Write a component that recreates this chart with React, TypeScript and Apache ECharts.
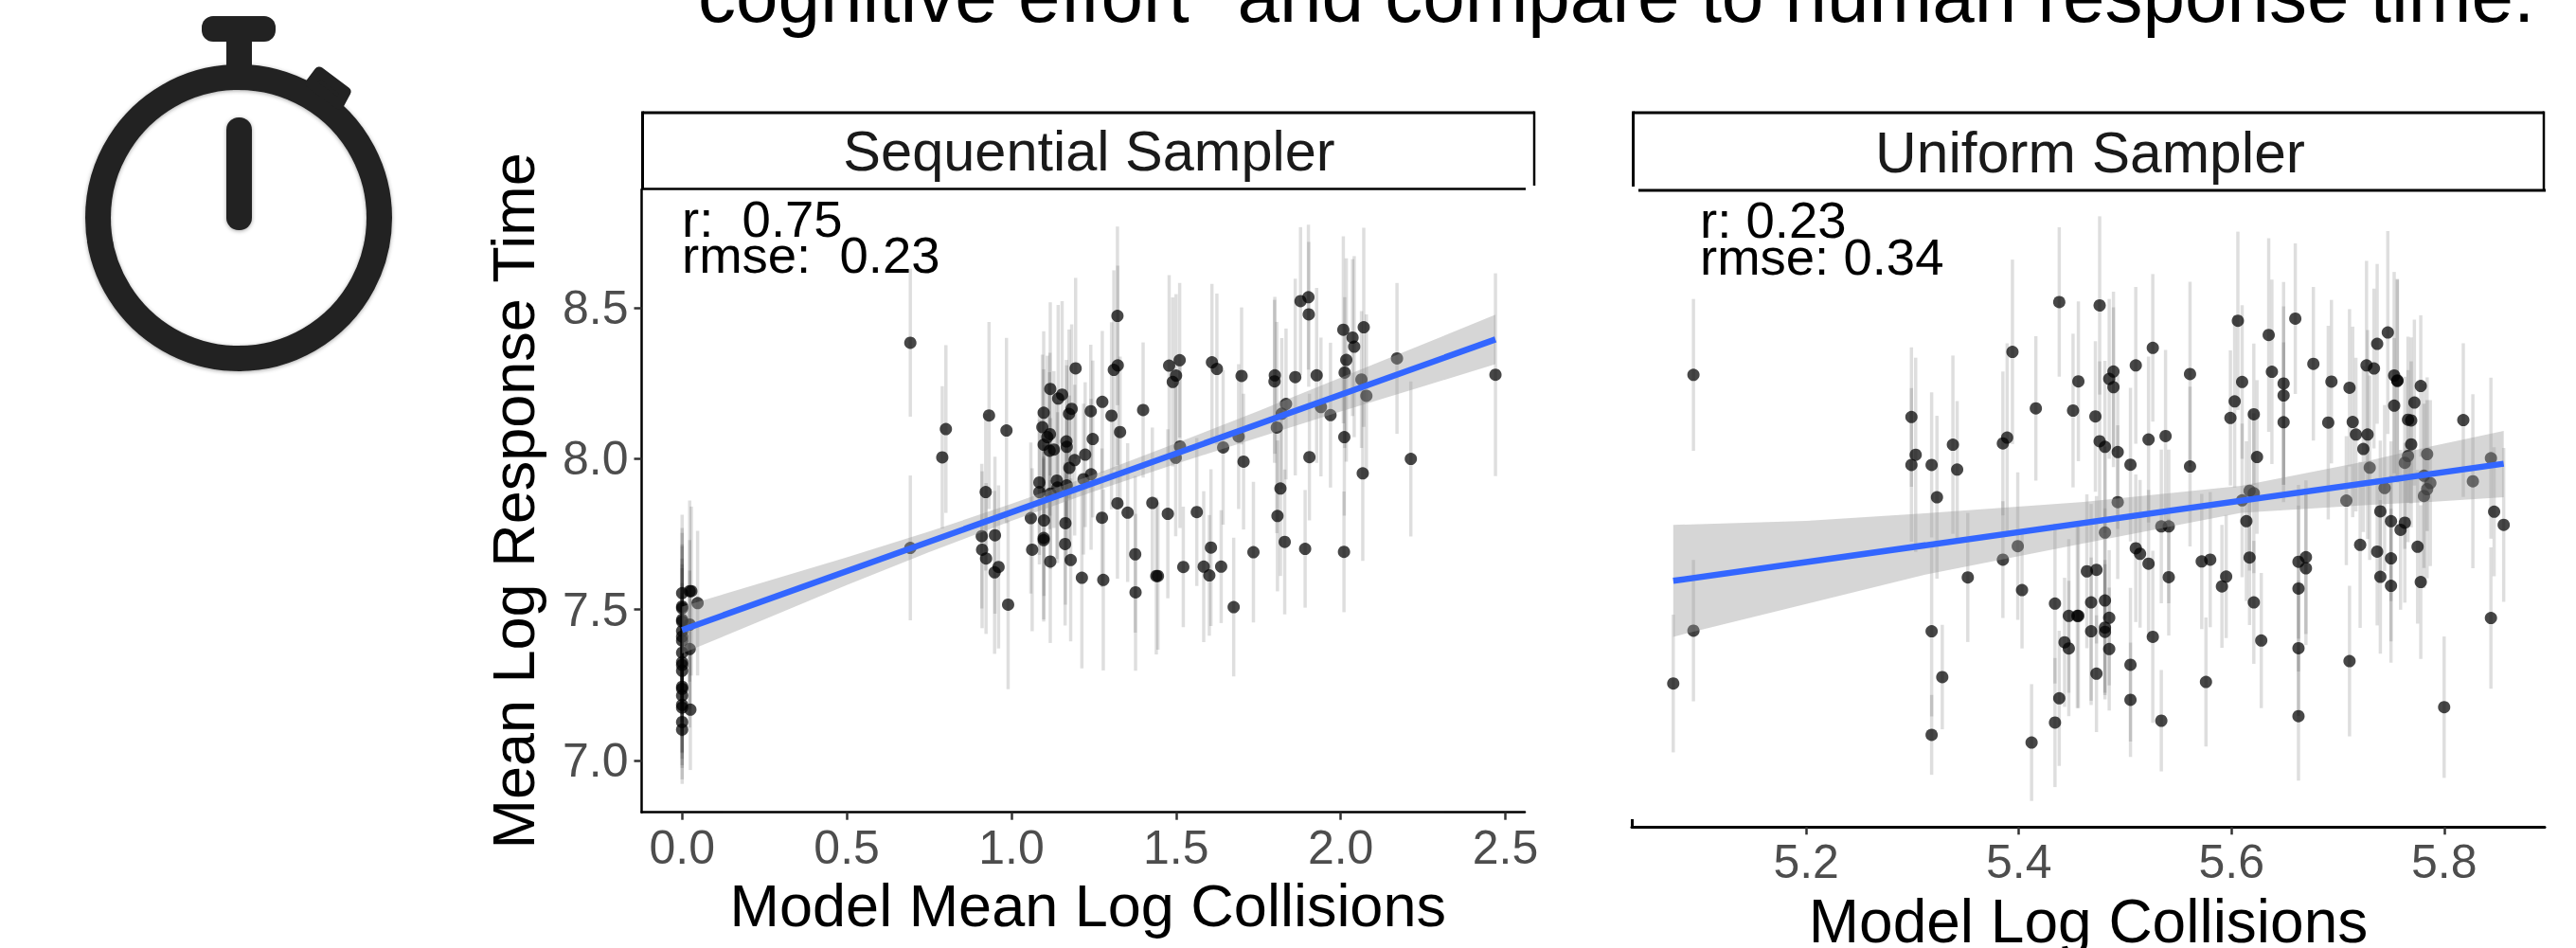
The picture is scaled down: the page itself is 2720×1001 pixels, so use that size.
import React, { useEffect, useRef } from "react";
import * as echarts from "echarts";

const FONT = "Liberation Sans";
const headline = 'cognitive effort" and compare to human response time.';
const panelNames = ["Sequential Sampler", "Uniform Sampler"];
const statsSeq = ["r:  0.75", "rmse:  0.23"];
const statsUni = ["r: 0.23", "rmse: 0.34"];
const seqXTicks = [0, 0.5, 1, 1.5, 2, 2.5];
const uniXTicks = [5.2, 5.4, 5.6, 5.8];
const yTicks = [7, 7.5, 8, 8.5];

const seqX = [
  0, 0, 0, 0, 0, 0, 0, 0, 0, 0, 0, 0, 0, 0, 0, 0, 0, 0, 0,
  0.023, 0.028, 0.047, 0.023, 0.025, 0.023,
  0.693, 0.801, 0.79, 0.932, 0.985, 0.693,
  1.322, 1.195, 1.323, 1.311, 1.118, 1.154, 1.142, 1.276, 1.098, 1.183, 1.175, 1.241, 1.304, 1.4, 1.094, 1.117, 1.109, 1.33, 1.247,
  1.098, 1.129, 1.116, 1.167, 1.168, 1.224, 1.192, 1.176, 1.085, 1.085, 1.138, 1.14, 1.119, 1.168, 1.219, 1.242, 0.922, 1.059, 1.099, 1.164,
  1.275, 1.322, 1.353, 1.428, 0.91, 0.95, 0.911, 0.923, 0.961, 0.949, 0.99, 1.063, 1.098, 1.098, 1.163, 1.118, 1.18, 1.214, 1.279, 1.376, 1.377, 1.44,
  1.479, 1.511, 1.5, 1.49, 1.609, 1.624, 1.699, 1.8, 1.799, 1.862, 1.927, 1.878, 1.902, 1.903, 2.008, 2.036, 2.041, 2.07, 2.017, 2.012, 2.171, 2.063, 2.078,
  1.834, 1.821, 1.94, 1.969, 1.806, 1.69, 1.643, 1.705, 1.512, 1.499, 2.011, 1.905, 2.213, 2.067, 1.817, 1.808, 1.475, 1.563, 1.606, 1.522, 1.584, 1.601, 1.637,
  1.735, 1.83, 1.892, 2.01, 1.675, 1.445, 2.47,
];
const seqY = [
  7.554, 7.51, 7.504, 7.466, 7.46, 7.429, 7.41, 7.397, 7.357, 7.325, 7.316, 7.297, 7.244, 7.237, 7.215, 7.184, 7.175, 7.127, 7.102,
  7.561, 7.561, 7.521, 7.369, 7.168, 7.45,
  8.384, 8.098, 8.004, 8.143, 8.093, 7.704,
  8.473, 8.299, 8.309, 8.294, 8.231, 8.212, 8.199, 8.188, 8.152, 8.165, 8.148, 8.157, 8.142, 8.161, 8.104, 8.081, 8.071, 8.088, 8.065,
  8.046, 8.03, 8.026, 8.057, 8.039, 8.013, 7.995, 7.969, 7.921, 7.889, 7.927, 7.904, 7.884, 7.911, 7.932, 7.948, 7.889, 7.803, 7.795, 7.786,
  7.804, 7.852, 7.821, 7.853, 7.743, 7.746, 7.698, 7.669, 7.641, 7.623, 7.516, 7.698, 7.737, 7.73, 7.717, 7.659, 7.664, 7.605, 7.598, 7.683, 7.557, 7.611,
  8.308, 8.326, 8.275, 8.254, 8.319, 8.297, 8.274, 8.276, 8.256, 8.27, 8.276, 8.522, 8.535, 8.478, 8.427, 8.401, 8.371, 8.435, 8.327, 8.285, 8.332, 8.262, 8.208,
  8.181, 8.149, 8.171, 8.144, 8.103, 8.073, 8.037, 7.99, 8.04, 8.003, 8.071, 8.005, 7.999, 7.951, 7.901, 7.81, 7.817, 7.823, 7.705, 7.641, 7.642, 7.613, 7.642,
  7.69, 7.724, 7.701, 7.691, 7.508, 7.611, 8.278,
];
const seqErr = [
  0.26, 0.26, 0.25, 0.25, 0.25, 0.24, 0.24, 0.24, 0.23, 0.23, 0.23, 0.22, 0.22, 0.21, 0.21, 0.2, 0.2, 0.19, 0.18,
  0.3, 0.28, 0.24, 0.26, 0.2, 0.28,
  0.245, 0.278, 0.236, 0.31, 0.307, 0.24,
  0.296, 0.3, 0.33, 0.33, 0.287, 0.31, 0.31, 0.235, 0.27, 0.28, 0.28, 0.22, 0.31, 0.224, 0.24, 0.27, 0.27, 0.25, 0.26,
  0.25, 0.26, 0.26, 0.27, 0.27, 0.24, 0.25, 0.24, 0.24, 0.24, 0.26, 0.25, 0.25, 0.26, 0.25, 0.25, 0.26, 0.25, 0.25, 0.27,
  0.23, 0.25, 0.23, 0.25, 0.24, 0.26, 0.26, 0.25, 0.27, 0.27, 0.28, 0.27, 0.27, 0.27, 0.27, 0.27, 0.27, 0.3, 0.3, 0.26, 0.26, 0.26,
  0.3, 0.256, 0.27, 0.28, 0.26, 0.25, 0.227, 0.26, 0.27, 0.326, 0.29, 0.245, 0.24, 0.24, 0.31, 0.26, 0.3, 0.33, 0.337, 0.25, 0.25, 0.227, 0.27,
  0.25, 0.25, 0.23, 0.24, 0.35, 0.24, 0.256, 0.225, 0.27, 0.26, 0.26, 0.21, 0.257, 0.29, 0.29, 0.25, 0.28, 0.245, 0.26, 0.2, 0.25, 0.2, 0.187,
  0.233, 0.24, 0.195, 0.2, 0.23, 0.244, 0.336,
];

const uniX = [
  5.094, 5.299, 5.303, 5.299, 5.318, 5.323, 5.338, 5.342, 5.385, 5.389, 5.394, 5.416, 5.438, 5.451, 5.456, 5.472, 5.476, 5.476, 5.481, 5.399, 5.385,
  5.075, 5.094, 5.318, 5.318, 5.328, 5.352, 5.403, 5.412, 5.434, 5.434, 5.438, 5.447, 5.456, 5.455, 5.443, 5.447, 5.464, 5.473, 5.468, 5.468, 5.473,
  5.481, 5.485, 5.481, 5.481, 5.485, 5.505, 5.505, 5.526, 5.534, 5.541, 5.522, 5.51, 5.514,
  5.485, 5.489, 5.489, 5.493, 5.505, 5.51, 5.526, 5.522, 5.538, 5.561, 5.561, 5.493, 5.481, 5.534, 5.541,
  5.606, 5.635, 5.66, 5.677, 5.638, 5.61, 5.649, 5.649, 5.603, 5.599, 5.621, 5.649, 5.694, 5.711, 5.691, 5.714, 5.727, 5.734, 5.737, 5.747, 5.753, 5.756, 5.756,
  5.778, 5.772, 5.753, 5.766, 5.769, 5.769, 5.766, 5.763, 5.717, 5.728, 5.724, 5.73, 5.784, 5.781, 5.787, 5.784, 5.781, 5.818, 5.844, 5.827, 5.847, 5.856, 5.844,
  5.708, 5.744, 5.74, 5.75, 5.763, 5.759, 5.721, 5.737, 5.75, 5.775, 5.74, 5.75, 5.778, 5.617, 5.621, 5.61, 5.614, 5.617, 5.572, 5.58, 5.624, 5.595, 5.591, 5.621,
  5.663, 5.67, 5.67, 5.663, 5.663, 5.663, 5.628, 5.576, 5.711, 5.8,
];
const uniY = [
  8.298, 8.161, 8.038, 8.005, 8.005, 7.9, 8.071, 7.99, 8.075, 8.094, 8.373, 8.189, 8.535, 8.182, 8.277, 8.163, 8.524, 8.082, 8.064, 7.741, 7.697,
  7.294, 7.466, 7.464, 7.127, 7.315, 7.639, 7.598, 7.102, 7.554, 7.167, 7.246, 7.514, 7.514, 7.514, 7.428, 7.408, 7.659, 7.664, 7.558, 7.464, 7.326,
  7.564, 7.508, 7.476, 7.462, 7.406, 7.355, 7.241, 7.446, 7.173, 7.64, 7.684, 7.734, 7.716,
  8.285, 8.309, 8.258, 8.047, 8.006, 8.329, 8.386, 8.088, 8.099, 8.301, 8, 7.884, 7.785, 7.805, 7.805,
  8.474, 8.428, 8.481, 8.334, 8.308, 8.275, 8.27, 8.231, 8.212, 8.158, 8.17, 8.144, 8.276, 8.256, 8.143, 8.145, 8.329, 8.319, 8.399, 8.436, 8.296, 8.278, 8.28,
  8.262, 8.208, 8.198, 8.152, 8.15, 8.072, 8.034, 8.012, 8.104, 8.104, 8.057, 7.996, 8.04, 7.97, 7.946, 7.926, 7.904, 8.151, 8.027, 7.952, 7.853, 7.81, 7.507,
  7.889, 7.93, 7.854, 7.822, 7.817, 7.794, 7.745, 7.723, 7.701, 7.739, 7.641, 7.612, 7.624, 7.921, 7.913, 7.89, 7.822, 7.704, 7.691, 7.697, 8.031, 7.642, 7.61, 7.558,
  7.69, 7.705, 7.669, 7.603, 7.409, 7.188, 7.434, 7.299, 7.367, 7.217,
];
const uniErr = [
  0.247, 0.227, 0.316, 0.25, 0.236, 0.265, 0.29, 0.223, 0.234, 0.307, 0.3, 0.235, 0.243, 0.25, 0.26, 0.245, 0.29, 0.26, 0.28, 0.24, 0.19,
  0.224, 0.23, 0.277, 0.13, 0.17, 0.21, 0.19, 0.19, 0.26, 0.21, 0.22, 0.25, 0.3, 0.3, 0.21, 0.22, 0.25, 0.24, 0.32, 0.24, 0.19,
  0.3, 0.22, 0.22, 0.22, 0.2, 0.25, 0.186, 0.28, 0.165, 0.19, 0.24, 0.24, 0.24,
  0.26, 0.26, 0.26, 0.25, 0.25, 0.255, 0.24, 0.27, 0.28, 0.3, 0.26, 0.25, 0.28, 0.25, 0.25,
  0.29, 0.315, 0.245, 0.25, 0.3, 0.25, 0.33, 0.29, 0.28, 0.22, 0.23, 0.26, 0.266, 0.256, 0.315, 0.31, 0.34, 0.26, 0.26, 0.33, 0.337, 0.33, 0.33,
  0.23, 0.27, 0.22, 0.27, 0.27, 0.27, 0.28, 0.28, 0.25, 0.34, 0.27, 0.3, 0.25, 0.3, 0.27, 0.29, 0.3, 0.25, 0.262, 0.283, 0.21, 0.25, 0.23,
  0.21, 0.27, 0.23, 0.26, 0.26, 0.26, 0.27, 0.24, 0.27, 0.25, 0.25, 0.25, 0.25, 0.26, 0.26, 0.25, 0.26, 0.22, 0.22, 0.22, 0.25, 0.2, 0.2, 0.2,
  0.25, 0.25, 0.25, 0.27, 0.22, 0.21, 0.22, 0.21, 0.245, 0.23,
];

const seqFitX = [0, 2.47];
const seqFitY = [7.432, 8.395];
const seqBandX = [0, 0.25, 0.5, 0.75, 1, 1.25, 1.5, 1.75, 2, 2.25, 2.47];
const seqBandHigh = [7.51, 7.591, 7.673, 7.758, 7.85, 7.947, 8.051, 8.158, 8.268, 8.379, 8.477];
const seqBandLow = [7.354, 7.467, 7.581, 7.69, 7.794, 7.891, 7.983, 8.07, 8.156, 8.239, 8.313];

const uniFitX = [5.075, 5.856];
const uniFitY = [7.628, 8.009];
const uniBandX = [5.075, 5.2, 5.312, 5.461, 5.609, 5.728, 5.787, 5.856];
const uniBandHigh = [7.81, 7.823, 7.848, 7.885, 7.937, 8.018, 8.065, 8.116];
const uniBandLow = [7.446, 7.553, 7.648, 7.75, 7.849, 7.875, 7.885, 7.9];

const txt = (text: string, x: number, base: number, size: number, fill: string, align = "left") => ({
  type: "text",
  x,
  y: base - size * 0.3465,
  silent: true,
  style: { text, fontFamily: FONT, fontSize: size, fill, align, verticalAlign: "middle", textAlign: align, textVerticalAlign: "middle" },
});
const seg = (x1: number, y1: number, x2: number, y2: number, w: number, stroke = "#000", cap = "butt") => ({
  type: "line",
  silent: true,
  shape: { x1, y1, x2, y2 },
  style: { stroke, lineWidth: w, lineCap: cap },
});
const INK = "#222222";
const SHADOW = { shadowBlur: 4, shadowOffsetY: 1, shadowColor: "rgba(0,0,0,0.35)" };

function errorSeries(xs: number[], ys: number[], es: number[], idx: number) {
  return {
    type: "custom",
    xAxisIndex: idx,
    yAxisIndex: idx,
    z: 1,
    silent: true,
    clip: false,
    data: xs.map((x, i) => [x, ys[i], es[i]]),
    encode: { x: 0, y: 1 },
    renderItem: (_: any, api: any) => {
      const a = api.coord([api.value(0), api.value(1) + api.value(2)]);
      const b = api.coord([api.value(0), api.value(1) - api.value(2)]);
      return {
        type: "line",
        shape: { x1: a[0], y1: a[1], x2: b[0], y2: b[1] },
        style: { stroke: "#000", opacity: 0.13, lineWidth: 3.5 },
      };
    },
  };
}
function bandSeries(xs: number[], hi: number[], lo: number[], idx: number) {
  return {
    type: "custom",
    xAxisIndex: idx,
    yAxisIndex: idx,
    z: 3,
    silent: true,
    clip: false,
    data: xs.map((x, i) => [x, hi[i], lo[i]]),
    encode: { x: 0, y: [1, 2] },
    renderItem: (p: any, api: any) => {
      if (p.dataIndex !== 0) return null;
      const top = xs.map((x, i) => api.coord([x, hi[i]]));
      const bot = xs.map((x, i) => api.coord([x, lo[i]])).reverse();
      return {
        type: "polygon",
        shape: { points: [...top, ...bot] },
        style: { fill: "#999999", opacity: 0.4 },
      };
    },
  };
}
const pointSeries = (xs: number[], ys: number[], idx: number) => ({
  type: "scatter",
  xAxisIndex: idx,
  yAxisIndex: idx,
  z: 2,
  silent: true,
  symbolSize: 13,
  itemStyle: { color: "#000", opacity: 0.72 },
  data: xs.map((x, i) => [x, ys[i]]),
});
const fitSeries = (xs: number[], ys: number[], idx: number) => ({
  type: "line",
  xAxisIndex: idx,
  yAxisIndex: idx,
  z: 4,
  silent: true,
  showSymbol: false,
  symbol: "none",
  lineStyle: { color: "#3366FF", width: 6.5, cap: "butt" },
  data: xs.map((x, i) => [x, ys[i]]),
});

const tickLabel = { fontFamily: FONT, fontSize: 50, color: "#4D4D4D" };

export default function App() {
  const ref = useRef<HTMLDivElement>(null);
  useEffect(() => {
    const chart = echarts.init(ref.current!, undefined, { renderer: "svg" });
    chart.setOption({
      animation: false,
      backgroundColor: "#fff",
      grid: [
        { left: 677.5, top: 200, width: 932.5, height: 657.7, outerBoundsMode: "none" },
        { left: 1723, top: 205, width: 964, height: 668.3, outerBoundsMode: "none" },
      ],
      xAxis: [
        {
          type: "value", gridIndex: 0, min: -0.123, max: 2.559,
          splitLine: { show: false },
          axisLine: { show: true, onZero: false, lineStyle: { color: "#000", width: 2.5 } },
          axisTick: { show: true, length: 8, customValues: seqXTicks, lineStyle: { color: "#333", width: 2.5 } },
          axisLabel: { ...tickLabel, margin: 12, customValues: seqXTicks, formatter: (v: number) => v.toFixed(1) },
          name: "Model Mean Log Collisions", nameLocation: "middle", nameGap: 65,
          nameTextStyle: { fontFamily: FONT, fontSize: 63, color: "#000", padding: [0, 0, 0, 10] },
        },
        {
          type: "value", gridIndex: 1, min: 5.036, max: 5.8946,
          splitLine: { show: false },
          axisLine: { show: true, onZero: false, lineStyle: { color: "#000", width: 3 } },
          axisTick: { show: true, length: 8, customValues: uniXTicks, lineStyle: { color: "#333", width: 2.5 } },
          axisLabel: { ...tickLabel, margin: 12, customValues: uniXTicks, formatter: (v: number) => v.toFixed(1) },
          name: "Model Log Collisions", nameLocation: "middle", nameGap: 68,
          nameTextStyle: { fontFamily: FONT, fontSize: 64, color: "#000" },
        },
      ],
      yAxis: [
        {
          type: "value", gridIndex: 0, min: 6.828, max: 8.892,
          splitLine: { show: false },
          axisLine: { show: true, onZero: false, lineStyle: { color: "#000", width: 2.5 } },
          axisTick: { show: true, length: 8, customValues: yTicks, lineStyle: { color: "#333", width: 2.5 } },
          axisLabel: { ...tickLabel, margin: 14, customValues: yTicks, formatter: (v: number) => v.toFixed(1) },
          name: "Mean Log Response Time", nameLocation: "middle", nameGap: 104,
          nameTextStyle: { fontFamily: FONT, fontSize: 63, color: "#000" },
        },
        {
          type: "value", gridIndex: 1, min: 6.827, max: 8.886, show: false,
          splitLine: { show: false },
        },
      ],
      graphic: [
        txt(headline, 737, 23, 80, "#000"),
        // stopwatch
        { type: "circle", silent: true, shape: { cx: 252, cy: 230, r: 148.5 }, style: { fill: "none", stroke: INK, lineWidth: 27, ...SHADOW } },
        { type: "rect", silent: true, shape: { x: 239, y: 124, width: 27, height: 119, r: 13 }, style: { fill: INK, ...SHADOW } },
        { type: "rect", silent: true, shape: { x: 239, y: 40, width: 27, height: 32 }, style: { fill: INK } },
        { type: "rect", silent: true, shape: { x: 213, y: 17, width: 78, height: 27, r: 12 }, style: { fill: INK } },
        { type: "polygon", silent: true, shape: { points: [[337, 76], [365, 97], [358, 110], [328, 88]] }, style: { fill: INK, stroke: INK, lineWidth: 11, lineJoin: "round" } },
        // strips
        seg(678.5, 119, 1620, 119, 3),
        seg(678.5, 117.5, 678.5, 200, 3),
        seg(677, 199.5, 1611, 199.5, 2.5),
        seg(1620, 117.5, 1620, 196, 2.5),
        seg(1724.5, 119, 2686, 119, 3),
        seg(1724.5, 117.5, 1724.5, 197, 3),
        seg(1730, 201, 2688, 201, 3),
        seg(2686, 117.5, 2686, 201, 2.5),
        seg(1723.5, 865, 1723.5, 873, 3),
        txt(panelNames[0], 1150, 180, 59.5, "#1A1A1A", "center"),
        txt(panelNames[1], 2207, 181.5, 60.5, "#1A1A1A", "center"),
        txt(statsSeq[0], 720, 250, 54.5, "#000"),
        txt(statsSeq[1], 720, 288.5, 54.5, "#000"),
        txt(statsUni[0], 1795, 251.7, 54.5, "#000"),
        txt(statsUni[1], 1795, 290.7, 54.5, "#000"),
      ],
      series: [
        errorSeries(seqX, seqY, seqErr, 0),
        pointSeries(seqX, seqY, 0),
        bandSeries(seqBandX, seqBandHigh, seqBandLow, 0),
        fitSeries(seqFitX, seqFitY, 0),
        errorSeries(uniX, uniY, uniErr, 1),
        pointSeries(uniX, uniY, 1),
        bandSeries(uniBandX, uniBandHigh, uniBandLow, 1),
        fitSeries(uniFitX, uniFitY, 1),
      ],
    });
    return () => chart.dispose();
  }, []);
  return <div ref={ref} style={{ position: "absolute", left: 0, top: 0, width: 2720, height: 1001 }} />;
}
